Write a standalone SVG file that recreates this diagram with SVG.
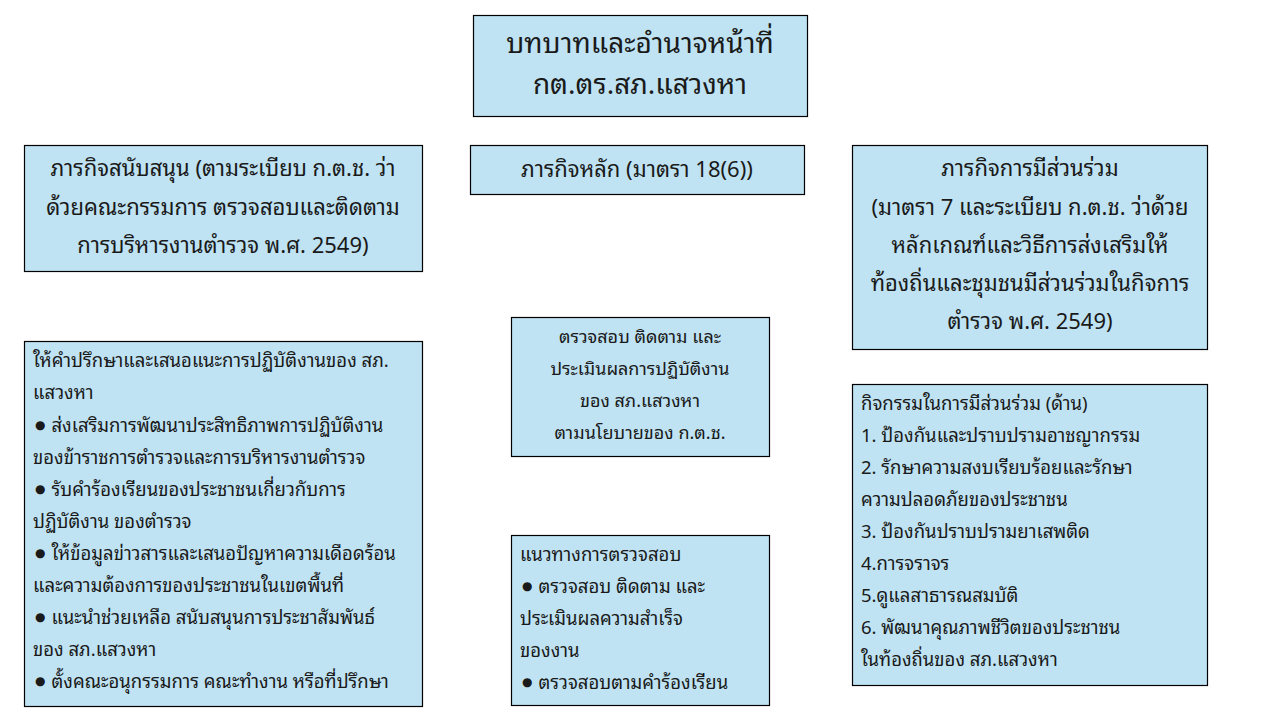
<svg xmlns="http://www.w3.org/2000/svg" width="1280" height="720" viewBox="0 0 1280 720">
<style>
.box{fill:#BFE3F3;stroke:#000;stroke-width:1.2}
text{font-family:"Noto Sans Thai Looped","Noto Sans Thai","Noto Sans","DejaVu Sans",sans-serif;fill:#1a1a1a}
.t{font-size:28px;text-anchor:middle}
.h{font-size:22px;text-anchor:middle}
.c{font-size:18px;text-anchor:middle}
.l{font-size:18.5px}
.b{font-size:12px}
</style>
<rect width="1280" height="720" fill="#fff"/>
<g id="title">
<rect class="box" x="473.5" y="15.5" width="334" height="101"/>
<text class="t" x="640" y="53">บทบาทและอำนาจหน้าที่</text>
<text class="t" x="640" y="94">กต.ตร.สภ.แสวงหา</text>
</g>
<g id="support">
<rect class="box" x="24.5" y="145.5" width="398" height="126"/>
<text class="h" x="223" y="176">ภารกิจสนับสนุน (ตามระเบียบ ก.ต.ช. ว่า</text>
<text class="h" x="223" y="215">ด้วยคณะกรรมการ ตรวจสอบและติดตาม</text>
<text class="h" x="223" y="253">การบริหารงานตำรวจ พ.ศ. 2549)</text>
</g>
<g id="main">
<rect class="box" x="470.5" y="145.5" width="334" height="49"/>
<text class="h" x="637" y="177">ภารกิจหลัก (มาตรา 18(6))</text>
</g>
<g id="participation">
<rect class="box" x="852.5" y="145.5" width="355" height="204"/>
<text class="h" x="1030" y="176">ภารกิจการมีส่วนร่วม</text>
<text class="h" x="1030" y="215">(มาตรา 7 และระเบียบ ก.ต.ช. ว่าด้วย</text>
<text class="h" x="1030" y="253">หลักเกณฑ์และวิธีการส่งเสริมให้</text>
<text class="h" x="1030" y="291">ท้องถิ่นและชุมชนมีส่วนร่วมในกิจการ</text>
<text class="h" x="1030" y="329">ตำรวจ พ.ศ. 2549)</text>
</g>
<g id="support-list">
<rect class="box" x="24.5" y="341.5" width="398" height="365"/>
<text class="l" x="33" y="367">ให้คำปรึกษาและเสนอแนะการปฏิบัติงานของ สภ.</text>
<text class="l" x="33" y="399">แสวงหา</text>
<text class="l" x="35" y="432"><tspan class="b" dy="-3">●</tspan><tspan dy="3" dx="6">ส่งเสริมการพัฒนาประสิทธิภาพการปฏิบัติงาน</tspan></text>
<text class="l" x="33" y="464">ของข้าราชการตำรวจและการบริหารงานตำรวจ</text>
<text class="l" x="35" y="496"><tspan class="b" dy="-3">●</tspan><tspan dy="3" dx="6">รับคำร้องเรียนของประชาชนเกี่ยวกับการ</tspan></text>
<text class="l" x="33" y="528">ปฏิบัติงาน ของตำรวจ</text>
<text class="l" x="35" y="560"><tspan class="b" dy="-3">●</tspan><tspan dy="3" dx="6">ให้ข้อมูลข่าวสารและเสนอปัญหาความเดือดร้อน</tspan></text>
<text class="l" x="33" y="592">และความต้องการของประชาชนในเขตพื้นที่</text>
<text class="l" x="35" y="624"><tspan class="b" dy="-3">●</tspan><tspan dy="3" dx="6">แนะนำช่วยเหลือ สนับสนุนการประชาสัมพันธ์</tspan></text>
<text class="l" x="33" y="656">ของ สภ.แสวงหา</text>
<text class="l" x="35" y="688"><tspan class="b" dy="-3">●</tspan><tspan dy="3" dx="6">ตั้งคณะอนุกรรมการ คณะทำงาน หรือที่ปรึกษา</tspan></text>
</g>
<g id="main-desc">
<rect class="box" x="511.5" y="317.5" width="258" height="139"/>
<text class="c" x="640" y="343">ตรวจสอบ ติดตาม และ</text>
<text class="c" x="640" y="375">ประเมินผลการปฏิบัติงาน</text>
<text class="c" x="640" y="407">ของ สภ.แสวงหา</text>
<text class="c" x="640" y="439">ตามนโยบายของ ก.ต.ช.</text>
</g>
<g id="main-guide">
<rect class="box" x="511.5" y="535.5" width="258" height="170"/>
<text class="l" x="520" y="561">แนวทางการตรวจสอบ</text>
<text class="l" x="522" y="593"><tspan class="b" dy="-3">●</tspan><tspan dy="3" dx="6">ตรวจสอบ ติดตาม และ</tspan></text>
<text class="l" x="520" y="625">ประเมินผลความสำเร็จ</text>
<text class="l" x="520" y="657">ของงาน</text>
<text class="l" x="522" y="689"><tspan class="b" dy="-3">●</tspan><tspan dy="3" dx="6">ตรวจสอบตามคำร้องเรียน</tspan></text>
</g>
<g id="activities">
<rect class="box" x="852.5" y="384.5" width="355" height="301"/>
<text class="l" x="861" y="410">กิจกรรมในการมีส่วนร่วม (ด้าน)</text>
<text class="l" x="861" y="442">1. ป้องกันและปราบปรามอาชญากรรม</text>
<text class="l" x="861" y="474">2. รักษาความสงบเรียบร้อยและรักษา</text>
<text class="l" x="861" y="506">ความปลอดภัยของประชาชน</text>
<text class="l" x="861" y="538">3. ป้องกันปราบปรามยาเสพติด</text>
<text class="l" x="861" y="570">4.การจราจร</text>
<text class="l" x="861" y="602">5.ดูแลสาธารณสมบัติ</text>
<text class="l" x="861" y="634">6. พัฒนาคุณภาพชีวิตของประชาชน</text>
<text class="l" x="861" y="666">ในท้องถิ่นของ สภ.แสวงหา</text>
</g>
<g id="connectors"></g>
</svg>
